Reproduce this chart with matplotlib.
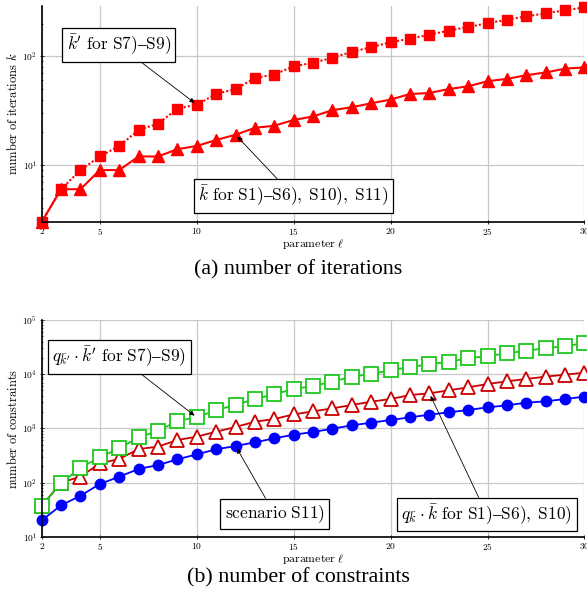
import math
import matplotlib
matplotlib.use("Agg")
import matplotlib.pyplot as plt
from matplotlib.ticker import FixedLocator, FuncFormatter, LogLocator, NullFormatter

plt.rcParams['mathtext.fontset'] = 'cm'
plt.rcParams['font.family'] = ['Liberation Serif', 'DejaVu Serif']

ell = list(range(2, 31))

# (a) number of iterations
k_prime = [3, 6, 9, 12, 15, 21, 24, 33, 36, 45, 50, 63, 68, 81, 87, 97, 110, 121,
           135, 145, 158, 172, 186, 201, 217, 233, 248, 265, 281]
k_bar = [3, 6, 6, 9, 9, 12, 12, 14, 15, 17, 19, 22, 23, 26, 28, 32, 34, 37,
         40, 45, 46, 50, 53, 59, 62, 67, 71, 77, 79]

# (b) number of constraints
cons_s11 = [20, 38, 57, 94, 128, 178, 210, 268, 331, 410, 472, 552, 653, 764, 855,
            986, 1135, 1273, 1426, 1597, 1788, 1974, 2180, 2441, 2659, 2978, 3150,
            3480, 3847]
cons_qk = [37, 100, 128, 226, 272, 415, 459, 609, 702, 867, 1058, 1327, 1486, 1811,
           2060, 2340, 2697, 3107, 3480, 4125, 4425, 5030, 5718, 6580, 7380, 8150,
           9000, 9800, 10670]
cons_qkp = [37, 97, 188, 292, 428, 682, 893, 1365, 1595, 2178, 2697, 3480, 4250, 5325,
            6050, 7280, 9000, 10070, 11780, 13560, 15200, 17020, 19600, 21640, 24260,
            27170, 30000, 33100, 37100]

xticks = [2, 5, 10, 15, 20, 25, 30]

fig = plt.figure(figsize=(5.87, 5.98), dpi=100)
ax1 = fig.add_axes([0.0710, 0.6288, 0.9247, 0.3612])
ax2 = fig.add_axes([0.0710, 0.1025, 0.9247, 0.3624])

def style(ax, ylabel):
    ax.set_yscale('log')
    ax.set_xlim(2, 30)
    ax.xaxis.set_major_locator(FixedLocator(xticks))
    ax.xaxis.set_major_formatter(FuncFormatter(lambda v, p: r'$%d$' % v))
    ax.yaxis.set_major_locator(LogLocator(base=10, numticks=10))
    ax.yaxis.set_minor_locator(LogLocator(base=10, subs=range(2, 10), numticks=20))
    ax.yaxis.set_minor_formatter(NullFormatter())
    ax.yaxis.set_major_formatter(FuncFormatter(
        lambda v, p: r'$10^{%d}$' % round(math.log10(v))))
    for s in ['top', 'right']:
        ax.spines[s].set_visible(False)
    for s in ['left', 'bottom']:
        ax.spines[s].set_linewidth(1.2)
        ax.spines[s].set_zorder(5)
    ax.grid(True, which='major', color='#c8c8c8', lw=0.9)
    ax.set_axisbelow(True)
    ax.tick_params(axis='both', which='major', direction='inout', length=3.5,
                   width=0.6, labelsize=6.8, pad=1.5)
    ax.tick_params(axis='y', which='minor', direction='inout', length=2, width=0.5)
    ax.set_xlabel(r'$\mathrm{parameter}\ \ell$', fontsize=8.5, labelpad=0)
    ax.set_ylabel(ylabel, fontsize=9, labelpad=1.5)

style(ax1, r'$\mathrm{number\ of\ iterations}\ k$')
style(ax2, r'$\mathrm{number\ of\ constraints}$')
ax1.set_ylim(3, 290)
ax2.set_ylim(10, 1e5)

ax1.plot(ell, k_prime, color='#ff0000', ls=(0, (1, 1)), lw=1.5, marker='s',
         ms=7.5, clip_on=False, zorder=3)
ax1.plot(ell, k_bar, color='#ff0000', ls='-', lw=1.5, marker='^',
         ms=8, clip_on=False, zorder=3)

ax2.plot(ell, cons_s11, color='#0000ff', lw=1.3, marker='o', ms=7.5,
         clip_on=False, zorder=3)
ax2.plot(ell, cons_qk, color='#cc0000', lw=1.3, marker='^', ms=10.5, mfc='white',
         mec='#cc0000', mew=1.3, clip_on=False, zorder=3)
ax2.plot(ell, cons_qkp, color='#1ec81e', lw=1.3, marker='s', ms=10.5, mfc='white',
         mec='#1ec81e', mew=1.3, clip_on=False, zorder=3)

bbox = dict(boxstyle='square,pad=0.25', fc='white', ec='black', lw=0.9)
ap = dict(arrowstyle='-|>', color='black', lw=0.6, mutation_scale=7,
          shrinkA=0, shrinkB=2)
fs = 12.5

ax1.annotate(r"$\bar{k}'\ \mathrm{for\ S7)–S9)}$", xy=(10, 36), xycoords='data',
             xytext=(0.142, 0.819), textcoords='axes fraction', ha='center',
             va='center', fontsize=fs, bbox=bbox, arrowprops=ap, zorder=6)
ax1.annotate(r"$\bar{k}\ \mathrm{for\ S1)–S6),\;S10),\;S11)}$", xy=(12, 19),
             xycoords='data', xytext=(0.464, 0.120), textcoords='axes fraction',
             ha='center', va='center', fontsize=fs, bbox=bbox, arrowprops=ap, zorder=6)

ax2.annotate(r"$q_{\bar{k}'}\cdot\bar{k}'\ \mathrm{for\ S7)–S9)}$", xy=(10, 1595),
             xycoords='data', xytext=(0.143, 0.829), textcoords='axes fraction',
             ha='center', va='center', fontsize=fs, bbox=bbox, arrowprops=ap, zorder=6)
ax2.annotate(r"$\mathrm{scenario\ S11)}$", xy=(12, 472), xycoords='data',
             xytext=(0.429, 0.105), textcoords='axes fraction', ha='center',
             va='center', fontsize=fs, bbox=bbox, arrowprops=ap, zorder=6)
ax2.annotate(r"$q_{\bar{k}}\cdot\bar{k}\ \mathrm{for\ S1)–S6),\;S10)}$", xy=(22, 4425),
             xycoords='data', xytext=(0.820, 0.1025), textcoords='axes fraction',
             ha='center', va='center', fontsize=fs, bbox=bbox, arrowprops=ap, zorder=6)

fig.text(0.508, 1 - 270 / 598, '(a) number of iterations', ha='center',
         va='center', fontsize=15.8)
fig.text(0.508, 1 - 578 / 598, '(b) number of constraints', ha='center',
         va='center', fontsize=15.8)

fig.savefig('out.png', dpi=100)
